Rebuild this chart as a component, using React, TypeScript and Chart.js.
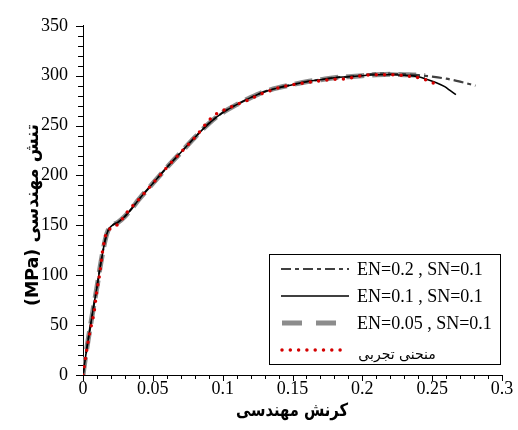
import React, { useEffect, useRef } from "react";
import { Chart, registerables } from "chart.js";

Chart.register(...registerables);

// ---------- DATA ----------
const xTicks = [0, 0.05, 0.1, 0.15, 0.2, 0.25, 0.3];
const yTicks = [0, 50, 100, 150, 200, 250, 300, 350];
const xMinorStep = 0.01;
const yMinorStep = 10;

const seriesLabels = ["EN=0.2 , SN=0.1", "EN=0.1 , SN=0.1", "EN=0.05 , SN=0.1", "منحنی تجربی"];
const xTitle = "کرنش مهندسی";
const yTitle = "تنش مهندسی (MPa)";

// experimental curve (red dotted)
const strainExp = [0, 0.002, 0.0036, 0.0057, 0.0078, 0.01, 0.012, 0.014, 0.0164, 0.02, 0.025, 0.032, 0.04, 0.05, 0.06, 0.07, 0.08, 0.093, 0.105, 0.117, 0.13, 0.143, 0.155, 0.165, 0.177, 0.188, 0.2, 0.21, 0.22, 0.23, 0.24, 0.245, 0.25, 0.255];
const stressExp = [0, 19, 33, 48, 62, 85, 102, 124, 141, 147, 151, 164, 176, 192, 208, 223, 238, 259, 268, 275, 283, 289, 292, 294, 296, 297, 300, 301, 301, 300, 298, 296, 293, 290];

// EN=0.1 , SN=0.1 (black solid)
const strainEN01 = [0, 0.002, 0.004, 0.006, 0.008, 0.01, 0.012, 0.014, 0.016, 0.018, 0.021, 0.025, 0.03, 0.035, 0.04, 0.05, 0.06, 0.07, 0.08, 0.09, 0.1, 0.11, 0.12, 0.13, 0.14, 0.15, 0.16, 0.17, 0.18, 0.19, 0.2, 0.21, 0.22, 0.23, 0.24, 0.247, 0.253, 0.259, 0.263, 0.267];
const stressEN01 = [0, 20, 38, 55, 72, 88, 106, 122, 136, 145, 150, 153, 159, 167, 176, 192, 208, 223, 238, 252, 263, 271, 278, 284, 288, 291, 294, 296, 298, 299, 300, 301, 301, 300.5, 299, 296, 293, 289, 285, 281];

// EN=0.05 , SN=0.1 (grey thick dashed)
const strainEN005 = [0, 0.002, 0.004, 0.006, 0.008, 0.01, 0.012, 0.014, 0.016, 0.018, 0.021, 0.025, 0.03, 0.035, 0.04, 0.05, 0.06, 0.07, 0.08, 0.09, 0.1, 0.11, 0.12, 0.13, 0.14, 0.15, 0.16, 0.17, 0.18, 0.19, 0.2, 0.21, 0.22, 0.23, 0.24, 0.245];
const stressEN005 = [0, 20, 38, 55, 72, 88, 106, 122, 136, 145, 150, 153, 159, 167, 176, 192, 208, 223, 238, 252, 263, 271, 278, 284, 288, 291, 294, 296, 298, 299, 300, 301, 301.5, 301, 300.5, 300];

// EN=0.2 , SN=0.1 (dark grey dash-dot)
const strainEN02 = [0, 0.002, 0.004, 0.006, 0.008, 0.01, 0.012, 0.014, 0.016, 0.018, 0.021, 0.025, 0.03, 0.035, 0.04, 0.05, 0.06, 0.07, 0.08, 0.09, 0.1, 0.11, 0.12, 0.13, 0.14, 0.15, 0.16, 0.17, 0.18, 0.19, 0.2, 0.21, 0.22, 0.23, 0.24, 0.25, 0.26, 0.27, 0.281];
const stressEN02 = [0, 20, 38, 55, 72, 88, 106, 122, 136, 145, 150, 153, 159, 167, 176, 192, 208, 223, 238, 252, 263, 271, 278, 284, 288, 291, 294, 296, 298, 299, 300.5, 302, 302, 301.5, 300.5, 299, 297, 294, 290];

const toPts = (xs: number[], ys: number[]) => xs.map((x, i) => ({ x, y: ys[i] }));

const SERIF = "'Liberation Serif', 'Times New Roman', serif";
const ARABIC = "'DejaVu Sans', sans-serif";

const decorPlugin = {
  id: "decor",
  afterDraw(chart: any) {
    const ctx = chart.ctx as CanvasRenderingContext2D;
    const xs = chart.scales.x;
    const ys = chart.scales.y;
    const left = xs.left;
    const bottom = ys.bottom;
    ctx.save();
    ctx.strokeStyle = "#000";
    ctx.lineWidth = 1;
    // y ticks (outside)
    for (let v = 0; v <= 350 + 1e-9; v += yMinorStep) {
      const py = Math.round(ys.getPixelForValue(v)) + 0.5;
      const major = Math.abs(v % 50) < 1e-6;
      ctx.beginPath();
      ctx.moveTo(left - (major ? 7 : 5), py);
      ctx.lineTo(left, py);
      ctx.stroke();
    }
    // x ticks (outside)
    for (let i = 0; i <= 30; i++) {
      const v = i * xMinorStep;
      const px = Math.round(xs.getPixelForValue(v)) + 0.5;
      const major = i % 5 === 0;
      ctx.beginPath();
      ctx.moveTo(px, bottom);
      ctx.lineTo(px, bottom + (major ? 6 : 4));
      ctx.stroke();
    }

    // axis titles
    ctx.fillStyle = "#000";
    ctx.font = `bold 18px ${ARABIC}`;
    ctx.textAlign = "center";
    ctx.textBaseline = "middle";
    (ctx as any).direction = "rtl";
    ctx.fillText(xTitle, 292, 411, 112);
    ctx.save();
    ctx.translate(33, 215);
    ctx.rotate(-Math.PI / 2);
    ctx.fillText(yTitle, 0, 0, 182);
    ctx.restore();
    (ctx as any).direction = "ltr";

    // legend box
    const bx = 269.5, by = 254.5, bw = 231, bh = 110;
    ctx.fillStyle = "#fff";
    ctx.fillRect(bx, by, bw, bh);
    ctx.strokeStyle = "#000";
    ctx.lineWidth = 1;
    ctx.strokeRect(bx, by, bw, bh);

    const rows = [269, 296, 323, 350];
    const styles = [
      { color: "#404040", width: 2.2, dash: [10, 4, 4, 4], cap: "butt", x0: 281, x1: 349 },
      { color: "#000000", width: 1.6, dash: [], cap: "butt", x0: 281, x1: 349 },
      { color: "#8c8c8c", width: 5, dash: [20, 14], cap: "butt", x0: 282, x1: 338 },
      { color: "#d40000", width: 3.5, dash: [0, 8.3], cap: "round", x0: 282, x1: 348 },
    ];
    styles.forEach((s, i) => {
      ctx.beginPath();
      ctx.strokeStyle = s.color;
      ctx.lineWidth = s.width;
      ctx.setLineDash(s.dash);
      ctx.lineCap = s.cap as CanvasLineCap;
      ctx.moveTo(s.x0, rows[i]);
      ctx.lineTo(s.x1, rows[i]);
      ctx.stroke();
    });
    ctx.setLineDash([]);
    ctx.lineCap = "butt";
    ctx.fillStyle = "#000";
    ctx.textAlign = "left";
    ctx.textBaseline = "middle";
    ctx.font = `18px ${SERIF}`;
    for (let i = 0; i < 3; i++) ctx.fillText(seriesLabels[i], 357, rows[i] + 1);
    ctx.font = `14px ${ARABIC}`;
    (ctx as any).direction = "rtl";
    ctx.textAlign = "center";
    ctx.fillText(seriesLabels[3], 397, 355, 80);
    ctx.restore();
  },
};

export default function App() {
  const ref = useRef<HTMLCanvasElement | null>(null);
  useEffect(() => {
    if (!ref.current) return;
    const line = (data: any, color: string, width: number, dash: number[], order: number, cap = "butt") => ({
      data,
      showLine: true,
      borderColor: color,
      backgroundColor: color,
      borderWidth: width,
      borderDash: dash,
      borderCapStyle: cap,
      pointRadius: 0,
      fill: false,
      cubicInterpolationMode: "monotone",
      order,
    });
    const chart = new Chart(ref.current, {
      type: "scatter",
      data: {
        datasets: [
          { label: seriesLabels[3], ...line(toPts(strainExp, stressExp), "#d40000", 3.5, [0, 8.3], 0, "round") },
          { label: seriesLabels[1], ...line(toPts(strainEN01, stressEN01), "#000000", 1.6, [], 1) },
          { label: seriesLabels[0], ...line(toPts(strainEN02, stressEN02), "#404040", 2.2, [10, 4, 4, 4], 2) },
          { label: seriesLabels[2], ...line(toPts(strainEN005, stressEN005), "#8c8c8c", 5, [18, 8], 3) },
        ] as any,
      },
      options: {
        responsive: false,
        animation: false,
        events: [],
        layout: { padding: { left: 0, right: 16, top: 22, bottom: 0 } },
        plugins: { legend: { display: false }, tooltip: { enabled: false } },
        scales: {
          x: {
            type: "linear",
            min: 0,
            max: 0.3,
            afterBuildTicks: (s: any) => {
              s.ticks = xTicks.map((v) => ({ value: v }));
            },
            afterFit: (s: any) => {
              s.height = 55;
            },
            ticks: {
              color: "#000",
              font: { family: SERIF, size: 18 },
              padding: 3,
              maxRotation: 0,
              autoSkip: false,
              callback: (v: any) => String(parseFloat(Number(v).toFixed(2))),
            },
            grid: { display: false, drawTicks: false },
            border: { display: true, color: "#000", width: 1 },
          },
          y: {
            type: "linear",
            min: 0,
            max: 350,
            afterBuildTicks: (s: any) => {
              s.ticks = yTicks.map((v) => ({ value: v }));
            },
            afterFit: (s: any) => {
              s.width = 83;
            },
            ticks: {
              color: "#000",
              font: { family: SERIF, size: 18 },
              padding: 15,
              autoSkip: false,
              callback: (v: any) => String(v),
            },
            grid: { display: false, drawTicks: false },
            border: { display: true, color: "#000", width: 1 },
          },
        },
      } as any,
      plugins: [decorPlugin],
    });
    return () => chart.destroy();
  }, []);
  return (
    <div style={{ position: "absolute", left: 0, top: 0, width: 518, height: 430, background: "#fff" }}>
      <canvas ref={ref} width={518} height={430} style={{ width: 518, height: 430, display: "block" }} />
    </div>
  );
}
